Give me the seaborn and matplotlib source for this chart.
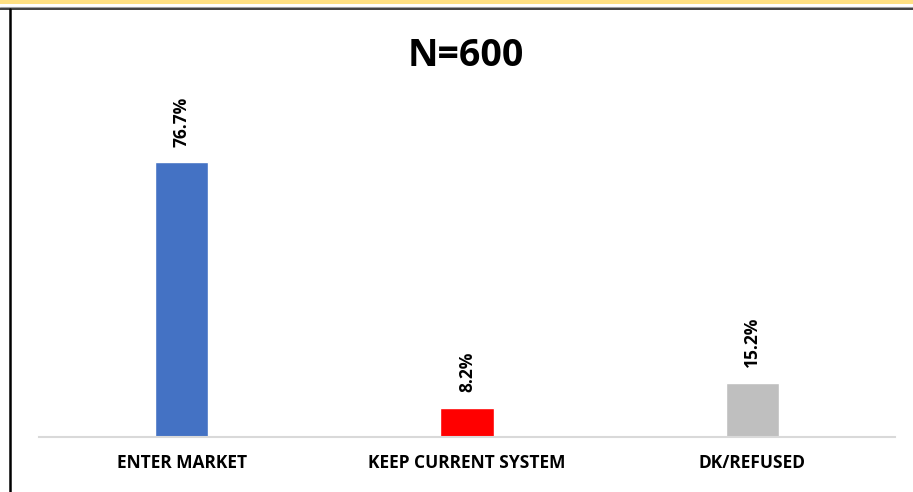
import numpy as np
import pandas as pd
import matplotlib.pyplot as plt
from matplotlib.lines import Line2D
from matplotlib.patches import Rectangle
import seaborn as sns

# dati
categories = ['ENTER MARKET', 'KEEP CURRENT SYSTEM', 'DK/REFUSED']
values = [76.7, 8.2, 15.2]
colors = ['#4472C4', '#FF0000', '#BFBFBF']
title = 'N=600'

df = pd.DataFrame({'cat': categories, 'val': values})

sns.set_style('white')
plt.rcParams['font.family'] = ['Open Sans', 'DejaVu Sans']

W, H = 913, 492
fig = plt.figure(figsize=(W / 100, H / 100), dpi=100)
ax = fig.add_axes([39 / W, 1 - 437 / H, (895 - 39) / W, (437 - 30) / H])

sns.barplot(data=df, x='cat', y='val', hue='cat', palette=colors, width=0.186,
            legend=False, ax=ax, saturation=1)

ax.set_xlim(-0.5, 2.5)
ax.set_ylim(0, 407 / 3.585)

for i, v in enumerate(values):
    ax.annotate(f'{v}%', (i, v), xytext=(0, 11), textcoords='offset points',
                rotation=90, ha='center', va='bottom', fontsize=12.5,
                fontweight='bold', color='black')

for s in ['top', 'right', 'left']:
    ax.spines[s].set_visible(False)
ax.spines['bottom'].set_color('#D9D9D9')
ax.spines['bottom'].set_linewidth(1.5)
ax.set_yticks([])
ax.set_xlabel('')
ax.set_ylabel('')
ax.tick_params(axis='x', length=0, pad=12)
for lab in ax.get_xticklabels():
    lab.set_fontweight('bold')
    lab.set_fontsize(12.5)
    lab.set_color('black')

fig.text(466 / W, 1 - 56 / H, title, ha='center', va='center', fontsize=27,
         fontweight='bold', color='black')

# cornice dello screenshot
fig.add_artist(Rectangle((0, 1 - 4 / H), 1, 4 / H, transform=fig.transFigure,
                         color='#FFE083', lw=0))
fig.add_artist(Line2D([0, 1], [1 - 7 / H, 1 - 7 / H], transform=fig.transFigure,
                      color='#A0A0A0', lw=0.8))
fig.add_artist(Line2D([0, 1], [1 - 9 / H, 1 - 9 / H], transform=fig.transFigure,
                      color='#202020', lw=1.2))
fig.add_artist(Line2D([10 / W, 10 / W], [0, 1 - 9 / H], transform=fig.transFigure,
                      color='black', lw=1.8))

fig.savefig('out.png', dpi=100)
